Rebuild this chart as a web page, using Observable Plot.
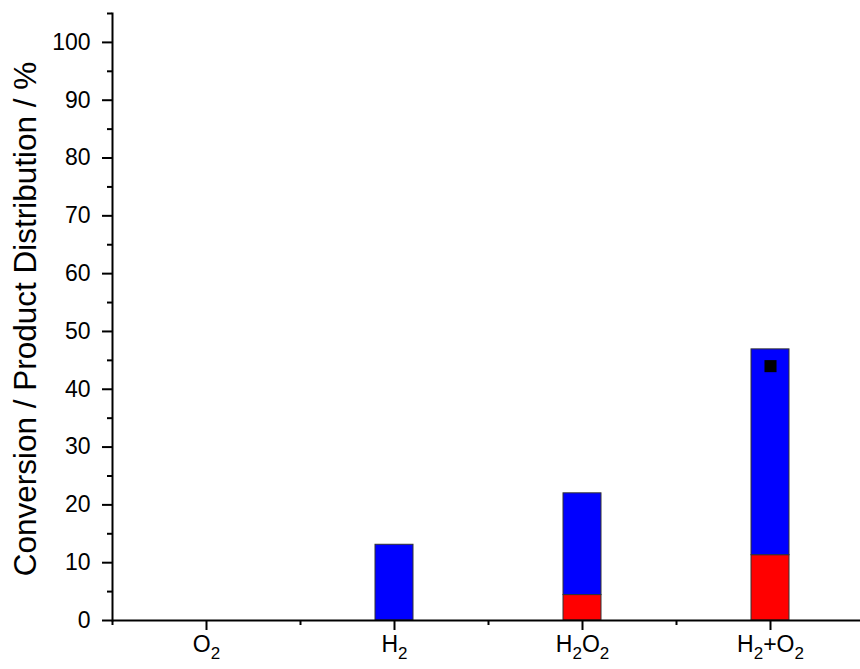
<!DOCTYPE html>
<html><head><meta charset="utf-8">
<script src="https://cdn.jsdelivr.net/npm/d3@7"></script>
<script src="https://cdn.jsdelivr.net/npm/@observablehq/plot@0.6"></script>
<style>
body{margin:0;background:#fff}
svg{font-family:"Liberation Sans",Arial,sans-serif}
</style>
</head><body><div id="chart"></div>
<script>
// Data
const categories = ["O2", "H2", "H2O2", "H2+O2"];
const redValues  = [0, 0, 4.4, 11.3];     // lower (red) segment
const blueValues = [0, 13.1, 17.6, 35.6]; // upper (blue) segment
const conversionValues = [null, null, null, 44.0];
const yMajorTicks = [0, 10, 20, 30, 40, 50, 60, 70, 80, 90, 100];
const yMinorTicks = [5, 15, 25, 35, 45, 55, 65, 75, 85, 95, 105];
const yLabel = "Conversion / Product Distribution / %";

const rows = [];
categories.forEach((c, i) => {
  rows.push({cat: c, series: "red", v: redValues[i]});
  rows.push({cat: c, series: "blue", v: blueValues[i]});
});
const convRows = categories.map((c, i) => ({cat: c, v: conversionValues[i]})).filter(d => d.v != null);

const W = 860, H = 669, mL = 112, mR = -4, mT = 13, mB = 49;
const halfStep = (W - mL - mR) / categories.length / 2;

const plot = Plot.plot({
  width: W, height: H,
  marginLeft: mL, marginRight: mR, marginTop: mT, marginBottom: mB,
  style: {fontFamily: '"Liberation Sans", Arial, sans-serif', fontSize: "23px", color: "#000", background: "#fff", overflow: "visible"},
  x: {domain: categories, paddingInner: 0.8, paddingOuter: 0.4, label: null, axis: null},
  y: {domain: [0, 105], label: null, axis: null},
  color: {domain: ["red", "blue"], range: ["#ff0000", "#0000ff"]},
  marks: [
    Plot.barY(rows.filter(d => d.v > 0), {x: "cat", y: "v", fill: "series", stroke: "#333", strokeWidth: 1}),
    Plot.dot(convRows, {x: "cat", y: "v", symbol: "square", r: 6.8, fill: "#000", stroke: "none"}),
    Plot.axisY({ticks: yMajorTicks, tickSize: 10, tickPadding: 12, strokeWidth: 2, fontSize: 23, label: null}),
    Plot.axisY({ticks: yMinorTicks, tickSize: 5, tickFormat: () => "", strokeWidth: 2, label: null}),
    Plot.axisX({tickSize: 10, tickPadding: 5, strokeWidth: 2, fontSize: 23, label: null}),
    Plot.axisX({tickSize: 5, tickFormat: () => "", dx: halfStep, strokeWidth: 2, label: null}),
    Plot.axisX({ticks: categories.slice(0, 1), tickSize: 5, tickFormat: () => "", dx: -halfStep, strokeWidth: 2, label: null}),
    Plot.ruleY([0], {strokeWidth: 2}),
    Plot.frame({anchor: "left", strokeWidth: 2}),
    Plot.text([yLabel], {frameAnchor: "left", textAnchor: "middle", lineAnchor: "middle", rotate: -90, dx: -87, dy: 2, fontSize: 31.5, fill: "#000"})
  ]
});
document.getElementById("chart").appendChild(plot);

// subscripts for chemical formulae in x tick labels
const svgNS = "http://www.w3.org/2000/svg";
plot.querySelectorAll('g[aria-label="x-axis tick label"] text').forEach(t => {
  const s = t.textContent;
  if (!s) return;
  t.textContent = "";
  const parts = s.match(/\d+|[^\d]+/g);
  let prevSub = false;
  parts.forEach(p => {
    const ts = document.createElementNS(svgNS, "tspan");
    ts.textContent = p;
    if (/^\d+$/.test(p)) {
      ts.setAttribute("font-size", "17");
      ts.setAttribute("dy", "7");
      prevSub = true;
    } else if (prevSub) {
      ts.setAttribute("dy", "-7");
      prevSub = false;
    }
    t.appendChild(ts);
  });
});
</script>
</body></html>
